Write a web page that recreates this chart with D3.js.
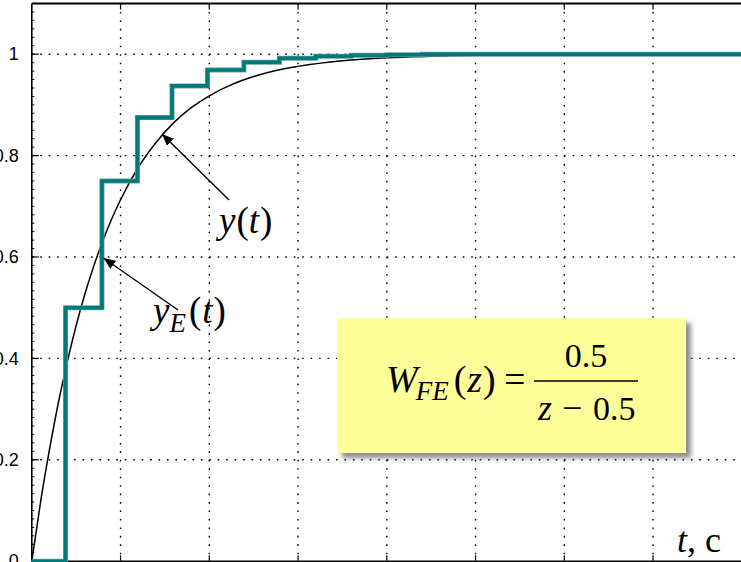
<!DOCTYPE html>
<html>
<head>
<meta charset="utf-8">
<script src="https://cdn.jsdelivr.net/npm/d3@7"></script>
<style>
  html, body { margin: 0; padding: 0; background: #fff; }
  svg { display: block; }
  .serif { font-family: "Liberation Serif", "Times New Roman", serif; }
</style>
</head>
<body>
<svg id="chart" width="741" height="562"></svg>
<script>
// Step response of a first-order lag y(t) and its discrete model y_E(t)
const yTicks = [0, 0.2, 0.4, 0.6, 0.8, 1];
const yTickLabels = ["0", "0.2", "0.4", "0.6", "0.8", "1"];
const tGrid = [1, 2, 3, 4, 5, 6, 7];

// continuous response y(t)
const tCont = [0, 0.1, 0.2, 0.3, 0.4, 0.5, 0.6, 0.7, 0.8, 0.9, 1.0, 1.2, 1.4, 1.6, 1.8, 2.0, 2.25, 2.5, 2.75, 3.0, 3.5, 4.0, 4.5, 5.0, 6.0, 8.0];
const yCont = [0, 0.118, 0.221, 0.313, 0.393, 0.465, 0.528, 0.583, 0.632, 0.675, 0.713, 0.777, 0.826, 0.865, 0.895, 0.918, 0.940, 0.956, 0.968, 0.976, 0.987, 0.993, 0.996, 0.998, 0.999, 1.0];

// discrete response y_E(t), held between samples
const tStep = [0, 0.38, 0.79, 1.19, 1.58, 1.98, 2.39, 2.79, 3.2, 3.6, 4.0, 4.4, 8];
const yStep = [0, 0.5, 0.75, 0.875, 0.9375, 0.96875, 0.984, 0.992, 0.996, 0.998, 0.999, 1, 1];

const svg = d3.select("#chart");
const x = d3.scaleLinear().domain([0, 8]).range([31.8, 741.8]);
const y = d3.scaleLinear().domain([0, 1.1]).range([561.2, 3.5]);

const defs = svg.append("defs");
const flt = defs.append("filter").attr("id", "shadow")
  .attr("x", "-10%").attr("y", "-10%").attr("width", "130%").attr("height", "140%");
flt.append("feDropShadow").attr("dx", 5).attr("dy", 5).attr("stdDeviation", 2.5)
  .attr("flood-color", "#666").attr("flood-opacity", 0.75);

// dotted grid
const dash = "1.6 6.85";
svg.append("g").selectAll("line").data(tGrid).join("line")
  .attr("x1", d => x(d)).attr("x2", d => x(d))
  .attr("y1", y(1.1)).attr("y2", y(0))
  .attr("stroke", "#000").attr("stroke-width", 1.4).attr("stroke-dasharray", dash);
svg.append("g").selectAll("line").data(yTicks.filter(d => d > 0)).join("line")
  .attr("x1", x(0)).attr("x2", x(8))
  .attr("y1", d => y(d)).attr("y2", d => y(d))
  .attr("stroke", "#000").attr("stroke-width", 1.4).attr("stroke-dasharray", dash);

// axes frame
svg.append("line").attr("x1", x(0)).attr("x2", x(8)).attr("y1", y(1.1)).attr("y2", y(1.1))
  .attr("stroke", "#000").attr("stroke-width", 1.8);
svg.append("line").attr("x1", x(0)).attr("x2", x(0)).attr("y1", y(1.1)).attr("y2", y(0))
  .attr("stroke", "#000").attr("stroke-width", 1.6);
svg.append("line").attr("x1", x(0)).attr("x2", x(8)).attr("y1", y(0)).attr("y2", y(0))
  .attr("stroke", "#000").attr("stroke-width", 1.6);

// y axis: labels, major and minor ticks
const yAxis = d3.axisLeft(y).tickValues(yTicks)
  .tickFormat((d, i) => yTickLabels[i]).tickSize(0).tickPadding(13);
const gy = svg.append("g").attr("transform", `translate(${x(0)},0)`).call(yAxis);
gy.select(".domain").remove();
gy.selectAll("text").attr("font-family", "Liberation Sans, Arial, sans-serif")
  .attr("font-size", 18).attr("fill", "#000");
svg.append("g").selectAll("line").data(yTicks).join("line")
  .attr("x1", x(0)).attr("x2", x(0) + 7).attr("y1", d => y(d)).attr("y2", d => y(d))
  .attr("stroke", "#000").attr("stroke-width", 1.2);
const minor = d3.range(0, 66).map(i => i * 0.2 / 12).filter(v => v <= 1.1);
svg.append("g").selectAll("line").data(minor).join("line")
  .attr("x1", x(0)).attr("x2", x(0) + 2.5).attr("y1", d => y(d)).attr("y2", d => y(d))
  .attr("stroke", "#000").attr("stroke-width", 1);

// top and bottom ticks
svg.append("g").selectAll("line").data(tGrid).join("line")
  .attr("x1", d => x(d)).attr("x2", d => x(d)).attr("y1", y(1.1)).attr("y2", y(1.1) + 6)
  .attr("stroke", "#000").attr("stroke-width", 1.2);
svg.append("g").selectAll("line").data(tGrid).join("line")
  .attr("x1", d => x(d)).attr("x2", d => x(d)).attr("y1", y(0)).attr("y2", y(0) - 6)
  .attr("stroke", "#000").attr("stroke-width", 1.2);

// continuous curve
const contLine = d3.line().x(d => x(d[0])).y(d => y(d[1])).curve(d3.curveMonotoneX);
svg.append("path").datum(d3.zip(tCont, yCont)).attr("d", contLine)
  .attr("fill", "none").attr("stroke", "#000").attr("stroke-width", 1.5);

// discrete staircase
const stepLine = d3.line().x(d => x(d[0])).y(d => y(d[1])).curve(d3.curveStepAfter);
svg.append("path").datum(d3.zip(tStep, yStep)).attr("d", stepLine)
  .attr("fill", "none").attr("stroke", "#5fa3a3").attr("stroke-width", 5);
svg.append("path").datum(d3.zip(tStep, yStep)).attr("d", stepLine)
  .attr("fill", "none").attr("stroke", "#007a78").attr("stroke-width", 3.6);

// annotation arrows
defs.append("marker").attr("id", "head").attr("viewBox", "0 0 12 10")
  .attr("refX", 12).attr("refY", 5).attr("markerWidth", 12).attr("markerHeight", 10)
  .attr("markerUnits", "userSpaceOnUse").attr("orient", "auto")
  .append("path").attr("d", "M0,0 L12,5 L0,10 Z").attr("fill", "#000");
svg.append("line").attr("x1", 229).attr("y1", 200).attr("x2", 162).attr("y2", 134)
  .attr("stroke", "#000").attr("stroke-width", 1.4).attr("marker-end", "url(#head)");
svg.append("line").attr("x1", 178).attr("y1", 310).attr("x2", 103.5).attr("y2", 258)
  .attr("stroke", "#000").attr("stroke-width", 1.4).attr("marker-end", "url(#head)");

// curve labels
const lblY = svg.append("text").attr("class", "serif").attr("x", 219).attr("y", 233)
  .attr("font-size", 37);
lblY.append("tspan").attr("font-style", "italic").text("y");
lblY.append("tspan").attr("dx", 1).text("(");
lblY.append("tspan").attr("font-style", "italic").text("t");
lblY.append("tspan").attr("dx", 1).text(")");

const lblE = svg.append("text").attr("class", "serif").attr("x", 153).attr("y", 323)
  .attr("font-size", 37);
lblE.append("tspan").attr("font-style", "italic").text("y");
lblE.append("tspan").attr("font-style", "italic").attr("font-size", 27).attr("dy", 9).attr("dx", 0).text("E");
lblE.append("tspan").attr("dy", -9).attr("dx", 3).text("(");
lblE.append("tspan").attr("font-style", "italic").attr("dx", 1).text("t");
lblE.append("tspan").attr("dx", 1).text(")");

// axis caption
const lblT = svg.append("text").attr("class", "serif").attr("x", 677).attr("y", 552)
  .attr("font-size", 36);
lblT.append("tspan").attr("font-style", "italic").text("t");
lblT.append("tspan").text(", с");

// transfer function box
svg.append("rect").attr("x", 337).attr("y", 318).attr("width", 349).attr("height", 135)
  .attr("fill", "#ffff99").attr("filter", "url(#shadow)");

const eq = svg.append("g").attr("class", "serif");
const lhs = eq.append("text").attr("x", 386).attr("y", 392).attr("font-size", 38);
lhs.append("tspan").attr("font-style", "italic").text("W");
lhs.append("tspan").attr("font-style", "italic").attr("font-size", 27).attr("dy", 8).attr("dx", -2).text("FE");
lhs.append("tspan").attr("dy", -8).attr("dx", 5).text("(");
lhs.append("tspan").attr("font-style", "italic").attr("dx", 1).text("z");
lhs.append("tspan").attr("dx", 1).text(")");
eq.append("text").attr("x", 504).attr("y", 392).attr("font-size", 38).text("=");
eq.append("line").attr("x1", 534).attr("x2", 638).attr("y1", 381).attr("y2", 381)
  .attr("stroke", "#000").attr("stroke-width", 1.6);
eq.append("text").attr("x", 586).attr("y", 367).attr("font-size", 34)
  .attr("text-anchor", "middle").text("0.5");
eq.append("text").attr("x", 538).attr("y", 420).attr("font-size", 36)
  .attr("font-style", "italic").text("z");
eq.append("text").attr("x", 562).attr("y", 420).attr("font-size", 36).text("−");
eq.append("text").attr("x", 593).attr("y", 420).attr("font-size", 34).text("0.5");
</script>
</body>
</html>
